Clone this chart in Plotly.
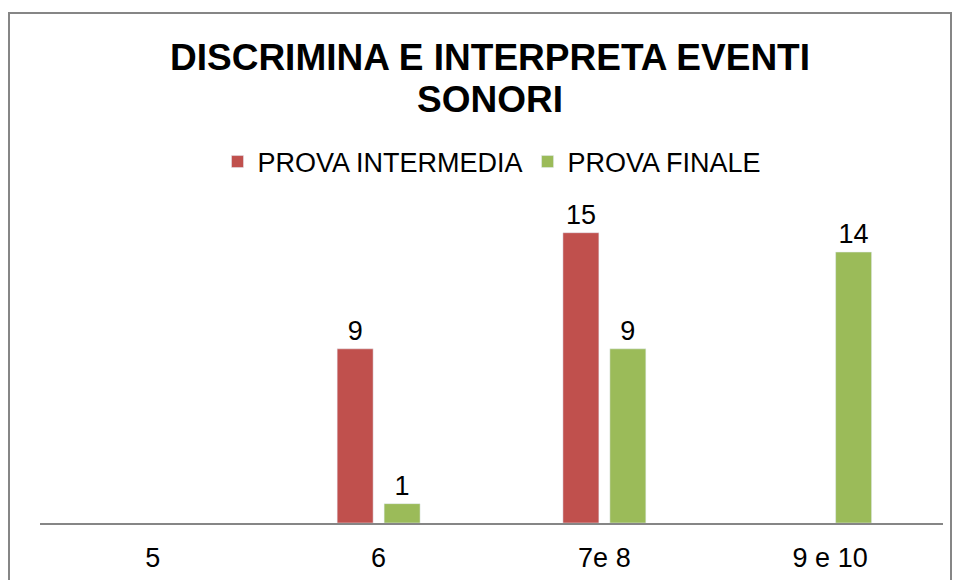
import plotly.graph_objects as go

categories = ["5", "6", "7e 8", "9 e 10"]
prova_intermedia = [None, 9, 15, None]
prova_finale = [None, 1, 9, 14]
title_line1 = "DISCRIMINA E INTERPRETA EVENTI"
title_line2 = "SONORI"

RED = "#C0504D"
GREEN = "#9BBB59"
FONT = "Liberation Sans, Arial, sans-serif"
FS = 27

fig = go.Figure()
fig.add_trace(go.Bar(
    name="PROVA INTERMEDIA", x=categories, y=prova_intermedia,
    marker_color=RED, text=prova_intermedia, textposition="outside",
    textfont=dict(size=FS, color="black", family=FONT), cliponaxis=False,
))
fig.add_trace(go.Bar(
    name="PROVA FINALE", x=categories, y=prova_finale,
    marker_color=GREEN, text=prova_finale, textposition="outside",
    textfont=dict(size=FS, color="black", family=FONT), cliponaxis=False,
))

L, R, T, B = 40, 15, 194, 57
H = 580 - T - B
W = 958 - L - R

def py(ypix):
    return (580 - B - ypix) / H

def px(xpix):
    return (xpix - L) / W

fig.update_layout(
    width=958, height=580,
    margin=dict(l=L, r=R, t=T, b=B, autoexpand=False),
    paper_bgcolor="white", plot_bgcolor="white",
    font=dict(family=FONT, color="black", size=FS),
    barmode="group", bargap=0.584, bargroupgap=0.234,
    showlegend=True,
    legend=dict(orientation="h", x=px(492), xanchor="center", y=py(162), yanchor="middle",
                font=dict(size=FS, family=FONT), itemwidth=30, traceorder="normal"),
    xaxis=dict(showline=True, linecolor="#868686", linewidth=2, ticks="",
               showgrid=False, tickfont=dict(size=FS, family=FONT), zeroline=False,
               ticklabelstandoff=10, automargin=False),
    yaxis=dict(visible=False, range=[0, 17], showgrid=False, zeroline=False, automargin=False),
    annotations=[
        dict(text="<b>" + title_line1 + "</b>", xref="paper", yref="paper",
             x=px(490), y=py(57), xanchor="center", yanchor="middle", showarrow=False,
             font=dict(size=37, family=FONT, color="black")),
        dict(text="<b>" + title_line2 + "</b>", xref="paper", yref="paper",
             x=px(490), y=py(100), xanchor="center", yanchor="middle", showarrow=False,
             font=dict(size=37, family=FONT, color="black")),
    ],
    shapes=[
        dict(type="rect", xref="paper", yref="paper",
             x0=px(9), x1=px(951), y0=py(610), y1=py(13),
             line=dict(color="#868686", width=2), fillcolor="rgba(0,0,0,0)", layer="above"),
    ],
)

fig.write_html("out.html", config={"displayModeBar": False},
               post_script="document.body.style.margin='0px';document.body.style.overflow='hidden';")
